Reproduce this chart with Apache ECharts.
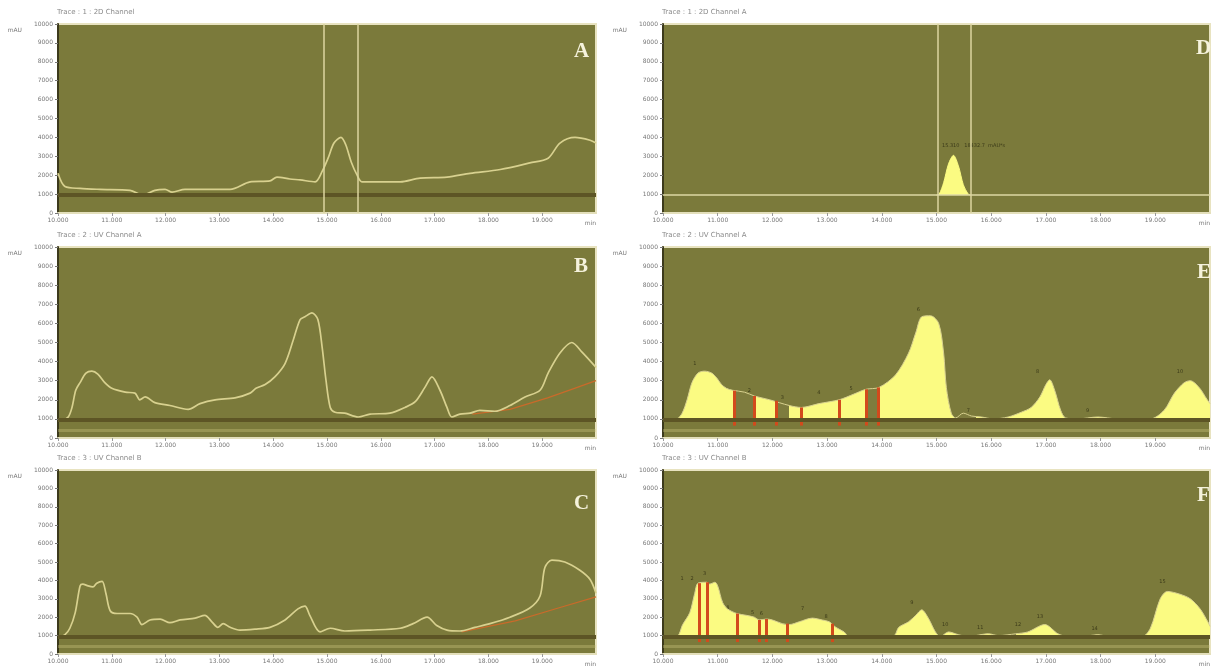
<!DOCTYPE html>
<html>
<head>
<meta charset="utf-8">
<script src="https://cdn.jsdelivr.net/npm/echarts@6/dist/echarts.min.js"></script>
<style>
  html, body { margin: 0; padding: 0; background: #fff; }
  #chart { width: 1211px; height: 667px; }
</style>
</head>
<body>
<div id="chart"></div>
<script>
// retention time (min) / signal (mAU) pairs
const aTrace = [[10.00,2100],[10.13,1400],[10.41,1300],[10.78,1250],[11.34,1200],[11.58,950],[11.80,1200],[11.99,1250],[12.12,1100],[12.36,1250],[13.20,1250],[13.57,1650],[13.94,1700],[14.07,1900],[14.31,1800],[14.50,1750],[14.78,1650],[14.91,2200],[15.02,2900],[15.13,3700],[15.26,4000],[15.35,3600],[15.45,2700],[15.56,2000],[15.65,1650],[16.36,1650],[16.73,1850],[17.23,1900],[17.66,2100],[18.22,2300],[18.77,2650],[19.11,2900],[19.33,3700],[19.61,4000],[19.89,3850],[20.00,3700]];
const aCursors = [14.94, 15.58];

const bTrace = [[10.00,950],[10.07,940],[10.19,1100],[10.26,1600],[10.33,2500],[10.41,2900],[10.52,3400],[10.63,3500],[10.74,3350],[10.87,2900],[11.00,2600],[11.25,2400],[11.43,2350],[11.52,2000],[11.62,2150],[11.80,1850],[12.08,1700],[12.42,1500],[12.64,1800],[12.92,2000],[13.29,2100],[13.57,2350],[13.68,2600],[13.85,2800],[14.03,3200],[14.22,3900],[14.37,5100],[14.50,6200],[14.59,6350],[14.72,6550],[14.83,6200],[14.91,4750],[14.98,3050],[15.06,1600],[15.15,1350],[15.33,1300],[15.58,1100],[15.80,1250],[16.17,1300],[16.45,1600],[16.64,1900],[16.82,2650],[16.95,3200],[17.10,2500],[17.23,1600],[17.32,1100],[17.47,1250],[17.66,1300],[17.84,1450],[18.12,1400],[18.40,1700],[18.68,2150],[18.96,2500],[19.11,3400],[19.33,4450],[19.55,5000],[19.74,4500],[20.00,3700]];
const bDrift = [[17.70,1250],[18.40,1500],[19.10,2100],[19.60,2600],[20.00,3000]];

const cTrace = [[10.00,950],[10.04,950],[10.13,1050],[10.22,1400],[10.32,2250],[10.41,3700],[10.46,3800],[10.56,3700],[10.65,3650],[10.72,3850],[10.82,3950],[10.89,3300],[10.97,2350],[11.10,2200],[11.34,2200],[11.47,2000],[11.56,1600],[11.71,1850],[11.90,1900],[12.08,1700],[12.27,1850],[12.55,1950],[12.73,2100],[12.86,1750],[12.97,1450],[13.07,1650],[13.20,1450],[13.38,1300],[13.66,1350],[13.94,1450],[14.22,1850],[14.46,2450],[14.59,2600],[14.68,2100],[14.87,1200],[15.06,1400],[15.33,1250],[15.80,1300],[16.36,1400],[16.60,1650],[16.86,2000],[17.04,1550],[17.23,1300],[17.47,1250],[17.75,1450],[18.03,1650],[18.40,2000],[18.77,2500],[18.96,3150],[19.05,4700],[19.18,5100],[19.42,5000],[19.70,4550],[19.89,4050],[20.00,3300]];
const cDrift = [[17.50,1200],[18.50,1800],[19.30,2500],[20.00,3100]];

const dPeak = [[15.00,950],[15.05,1000],[15.13,1600],[15.22,2600],[15.31,3050],[15.40,2500],[15.49,1500],[15.58,1000],[15.62,950]];
const dCursors = [15.02, 15.62];
const dLabel = [[15.10,3550]];
const dLabelText = '15.310   18432.7  mAU*s';

const eTrace = [[10.00,950],[10.25,1000],[10.35,1300],[10.44,2000],[10.53,2900],[10.64,3400],[10.76,3500],[10.89,3400],[10.98,3150],[11.07,2800],[11.16,2600],[11.27,2500],[11.49,2400],[11.67,2200],[11.95,2000],[12.31,1700],[12.53,1600],[12.85,1800],[13.22,2000],[13.49,2300],[13.71,2550],[13.95,2650],[14.25,3300],[14.49,4450],[14.62,5500],[14.73,6350],[14.89,6400],[15.04,6000],[15.13,4450],[15.18,2650],[15.27,1300],[15.35,1050],[15.49,1300],[15.64,1150],[15.82,1100],[16.04,1000],[16.31,1100],[16.55,1350],[16.73,1600],[16.89,2150],[17.00,2800],[17.07,3050],[17.16,2500],[17.27,1450],[17.36,1050],[17.58,1000],[17.95,1100],[18.31,1000],[18.91,1000],[19.16,1450],[19.35,2350],[19.53,2900],[19.64,3000],[19.80,2650],[19.95,2000],[20.00,1800]];
const eFill = [[10.25,11.31],[11.67,12.07],[12.31,13.71],[13.93,15.35],[15.73,15.91],[16.25,17.40],[17.76,18.13],[18.91,20]];
const eSplits = [[11.31,2480],[11.67,2200],[12.07,1950],[12.53,1600],[13.22,2000],[13.71,2550],[13.93,2650]];
const eLabels = [[10.58,3900],[11.58,2500],[12.18,2100],[12.85,2350],[13.44,2600],[14.67,6700],[15.58,1450],[16.85,3450],[17.76,1450],[19.45,3450]];

const fTrace = [[10.00,950],[10.25,950],[10.36,1600],[10.49,2250],[10.58,3300],[10.64,3850],[10.80,3900],[10.85,3800],[10.95,3900],[11.00,3700],[11.09,2800],[11.18,2450],[11.35,2200],[11.53,2100],[11.67,2000],[11.76,1850],[11.89,1900],[12.00,1850],[12.18,1650],[12.31,1600],[12.49,1750],[12.73,1950],[12.91,1850],[13.04,1750],[13.16,1450],[13.31,1200],[13.40,950],[13.76,950],[14.22,1000],[14.31,1450],[14.49,1750],[14.62,2100],[14.73,2400],[14.85,1950],[14.98,1200],[15.07,950],[15.22,1200],[15.40,1050],[15.58,950],[15.95,1100],[16.13,1000],[16.45,1100],[16.67,1200],[16.98,1600],[17.22,1100],[17.40,950],[17.80,1000],[17.95,1050],[18.16,950],[18.76,950],[18.91,1400],[19.09,3000],[19.22,3400],[19.45,3250],[19.64,3000],[19.82,2450],[19.96,1750],[20.00,1500]];
const fFill = [[10.25,13.40],[14.22,15.04],[15.13,15.53],[15.76,16.13],[16.45,17.35],[17.80,18.13],[18.76,20]];
const fSplits = [[10.67,3850],[10.80,3900],[11.35,2200],[11.76,1850],[11.89,1900],[12.27,1650],[13.09,1650]];
const fLabels = [[10.35,4100],[10.53,4100],[10.76,4350],[11.18,2500],[11.64,2250],[11.80,2200],[12.55,2450],[12.98,2000],[14.55,2800],[15.16,1600],[15.80,1450],[16.49,1600],[16.89,2000],[17.89,1400],[19.13,3950]];

const traceTitles = ['Trace : 1 : 2D Channel', 'Trace : 2 : UV Channel A', 'Trace : 3 : UV Channel B',
                     'Trace : 1 : 2D Channel A', 'Trace : 2 : UV Channel A', 'Trace : 3 : UV Channel B'];
const panelLetters = ['A', 'B', 'C', 'D', 'E', 'F'];

const BG = '#7b7a3b';
const CURVE = '#d8d18f';
const YELLOW = '#fbfb82';
const RED = '#d24a1c';
const BASE = 950;
const SMOOTH = 0.3;

const grids = [
  { left: 58, top: 24, width: 538, height: 189 },
  { left: 58, top: 247, width: 538, height: 191 },
  { left: 58, top: 470, width: 538, height: 190 },
  { left: 663, top: 24, width: 552, height: 189 },
  { left: 663, top: 247, width: 552, height: 191 },
  { left: 663, top: 470, width: 552, height: 190 },
].map(g => Object.assign({ show: true, backgroundColor: BG, borderColor: '#e8e3c0', borderWidth: 2, containLabel: false }, g));

const xAxes = grids.map((g, i) => ({
  type: 'value', gridIndex: i, min: 10, max: 20, interval: 1,
  axisLine: { show: true, lineStyle: { color: '#e3dfbb', width: 2 } },
  axisTick: { show: true, length: 3, lineStyle: { color: '#999' } },
  axisLabel: { fontSize: 6, color: '#777', margin: 4, showMaxLabel: false, formatter: v => v.toFixed(3) },
  splitLine: { show: false },
  name: 'min', nameLocation: 'end', nameGap: 0,
  nameTextStyle: { fontSize: 6, color: '#777', align: 'right', verticalAlign: 'top', padding: [7, 0, 0, 0] },
}));

const yAxes = grids.map((g, i) => ({
  type: 'value', gridIndex: i, min: 0, max: 10000, interval: 1000,
  axisLine: { show: true, lineStyle: { color: '#3c3a1c', width: 2 } },
  axisTick: { show: true, length: 3, lineStyle: { color: '#777' } },
  axisLabel: { fontSize: 6, color: '#777', margin: 5, formatter: v => String(v) },
  splitLine: { show: false },
  name: 'mAU', nameLocation: 'end', nameGap: -6, nameMoveOverlap: false,
  nameTextStyle: { fontSize: 6, color: '#777', align: 'right', verticalAlign: 'middle', padding: [0, 36, 0, 0] },
}));

// horizontal reference lines: dark baseline band + faint light line under it
function hLines(dark, faint) {
  const d = [{ yAxis: BASE, lineStyle: { color: dark ? '#5d5525' : '#ddd8a4', width: dark ? 4 : 1.5, type: 'solid' } }];
  if (faint) d.push({ yAxis: 420, lineStyle: { color: 'rgba(205,200,130,0.35)', width: 3, type: 'solid' } });
  return d;
}
function vLines(list) {
  return list.map(t => ({ xAxis: t, lineStyle: { color: '#dcd6a0', width: 1.5, type: 'solid' } }));
}
function splitLines(list) {
  return list.map(p => [
    { coord: [p[0], 650], lineStyle: { color: RED, width: 3, type: 'solid' } },
    { coord: [p[0], p[1]] },
  ]);
}
function marks(data) {
  return { symbol: ['none', 'none'], silent: true, animation: false, label: { show: false }, data: data };
}

function trace(i, data, extra) {
  return Object.assign({
    type: 'line', xAxisIndex: i, yAxisIndex: i, data: data, smooth: SMOOTH,
    showSymbol: false, symbol: 'none', animation: false,
    lineStyle: { color: CURVE, width: 1.7 },
  }, extra || {});
}
function drift(i, data) {
  return trace(i, data, { smooth: false, lineStyle: { color: '#c96a2a', width: 1.3 } });
}
function filled(i, data, splits) {
  return {
    type: 'line', xAxisIndex: i, yAxisIndex: i, data: data, smooth: SMOOTH,
    showSymbol: false, symbol: 'none', animation: false,
    lineStyle: { width: 0 },
    areaStyle: { origin: BASE, opacity: 1 },
    markLine: marks(splitLines(splits)),
  };
}
function peakLabels(i, data, textFn) {
  return {
    type: 'scatter', xAxisIndex: i, yAxisIndex: i, data: data,
    symbolSize: 0, animation: false, silent: true,
    label: { show: true, position: 'inside', fontSize: 5, color: '#2c2a10', formatter: textFn },
  };
}
function fillMap(seriesIndex, ranges) {
  return {
    type: 'piecewise', show: false, seriesIndex: seriesIndex, dimension: 0,
    pieces: ranges.map(r => ({ gte: r[0], lte: r[1], color: YELLOW })),
    outOfRange: { color: '#7e7c3e' },
  };
}

const series = [
  trace(0, aTrace, { markLine: marks(hLines(true, false).concat(vLines(aCursors))) }),
  drift(1, bDrift),
  trace(1, bTrace, { markLine: marks(hLines(true, true)) }),
  drift(2, cDrift),
  trace(2, cTrace, { markLine: marks(hLines(true, true)) }),
  trace(3, dPeak, {
    lineStyle: { color: YELLOW, width: 1 },
    areaStyle: { origin: BASE, color: YELLOW, opacity: 1 },
    markLine: marks(hLines(false, false).concat(vLines(dCursors))),
  }),
  {
    type: 'scatter', xAxisIndex: 3, yAxisIndex: 3, data: dLabel, symbolSize: 0, animation: false, silent: true,
    label: { show: true, position: 'right', distance: 0, fontSize: 5, color: '#2c2a10', formatter: () => dLabelText },
  },
  filled(4, eTrace, eSplits),
  trace(4, eTrace, { markLine: marks(hLines(true, true)), lineStyle: { color: CURVE, width: 1 } }),
  peakLabels(4, eLabels, p => String(p.dataIndex + 1)),
  filled(5, fTrace, fSplits),
  trace(5, fTrace, { markLine: marks(hLines(true, true)), lineStyle: { color: CURVE, width: 1 } }),
  peakLabels(5, fLabels, p => String(p.dataIndex + 1)),
];

const letterPos = [[574, 41], [574, 256], [574, 493], [1196, 38], [1197, 262], [1197, 485]];
const titles = grids.map((g, i) => ({
  text: traceTitles[i], left: g.left - 1, top: g.top - 15, padding: 0,
  textStyle: { fontSize: 7, fontWeight: 'normal', color: '#8a8a8a', fontFamily: 'DejaVu Sans' },
})).concat(panelLetters.map((l, i) => ({
  text: l, left: letterPos[i][0], top: letterPos[i][1], padding: 0,
  textStyle: { fontSize: 21, fontWeight: 'bold', color: '#f5f2dc', fontFamily: 'Liberation Serif' },
})));

const chart = echarts.init(document.getElementById('chart'), null, { renderer: 'canvas' });
chart.setOption({
  backgroundColor: '#ffffff',
  animation: false,
  textStyle: { fontFamily: 'DejaVu Sans' },
  title: titles,
  grid: grids,
  xAxis: xAxes,
  yAxis: yAxes,
  visualMap: [fillMap(7, eFill), fillMap(10, fFill)],
  series: series,
});
</script>
</body>
</html>
